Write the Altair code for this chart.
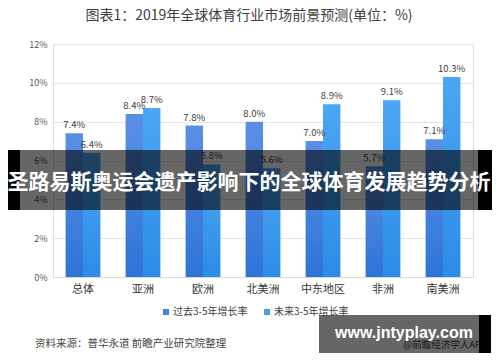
import altair as alt
import pandas as pd

regions = ["总体", "亚洲", "欧洲", "北美洲", "中东地区", "非洲", "南美洲"]
past = [7.4, 8.4, 7.8, 8.0, 7.0, 5.7, 7.1]
future = [6.4, 8.7, 5.8, 5.6, 8.9, 9.1, 10.3]
series = ["过去3-5年增长率", "未来3-5年增长率"]
y_ticks = [0, 2, 4, 6, 8, 10, 12]

title_text = "图表1：2019年全球体育行业市场前景预测(单位：%)"
source_text = "资料来源：普华永道 前瞻产业研究院整理"
app_text = "@前瞻经济学人APP"
banner_text = "圣路易斯奥运会遗产影响下的全球体育发展趋势分析"
site_text = "www.jntyplay.com"

rows = []
for r, p, f in zip(regions, past, future):
    rows.append({"region": r, "series": series[0], "v": p})
    rows.append({"region": r, "series": series[1], "v": f})
df = pd.DataFrame(rows)

FONT = "Noto Sans CJK SC"

x = alt.X("region:N", sort=regions, title=None,
          scale=alt.Scale(paddingInner=0.42, paddingOuter=0.21),
          axis=alt.Axis(labelAngle=0, labelFontSize=11, labelColor="#333333",
                        labelFont=FONT, labelPadding=6, ticks=False,
                        domainColor="#d9d9d9", domainWidth=1))
xo = alt.XOffset("series:N", scale=alt.Scale(domain=series, paddingInner=0, paddingOuter=0))
y = alt.Y("v:Q", title=None,
          scale=alt.Scale(domain=[0, 12], nice=False),
          axis=alt.Axis(values=y_ticks, labelExpr="datum.value + '%'",
                        labelFontSize=9, labelColor="#595959", labelFont=FONT,
                        labelPadding=6, ticks=False, domain=False,
                        gridColor="#e3e3e3", gridWidth=1))

base = alt.Chart(df)

def grad(top, bottom):
    return alt.Gradient(gradient="linear", x1=0, x2=0, y1=0, y2=1,
                        stops=[alt.GradientStop(color=top, offset=0),
                               alt.GradientStop(color=bottom, offset=1)])

bars_past = base.transform_filter(alt.datum.series == series[0]).mark_bar(
    color=grad("#5b8fe6", "#2e74d8")).encode(x=x, xOffset=xo, y=y)
bars_future = base.transform_filter(alt.datum.series == series[1]).mark_bar(
    color=grad("#4ba6f3", "#2c8ce6")).encode(x=x, xOffset=xo, y=y)

labels = base.transform_calculate(
    lab="format(datum.v, '.1f') + '%'"
).mark_text(dy=-8, fontSize=9.5, color="#404040", font=FONT).encode(
    x=x, xOffset=xo, y=y, text="lab:N")

legend_proxy = base.mark_square(opacity=0, size=1).encode(
    x=x, xOffset=xo, y=y,
    color=alt.Color("series:N", scale=alt.Scale(domain=series, range=["#3f83e2", "#41a0f0"]),
                    legend=alt.Legend(title=None, orient="none", legendX=108, legendY=263,
                                      direction="horizontal", symbolType="square",
                                      symbolSize=36, symbolOpacity=1, symbolStrokeWidth=0,
                                      labelFontSize=10, labelColor="#404040", labelFont=FONT,
                                      labelOffset=2, columnPadding=14)))

one = pd.DataFrame({"k": [0]})
ob = alt.Chart(one)

title = ob.mark_text(fontSize=14, color="#404040", font=FONT).encode(
    x=alt.value(196), y=alt.value(-28), text=alt.value(title_text))
source = ob.mark_text(fontSize=10.5, color="#444444", font=FONT, align="left").encode(
    x=alt.value(-18), y=alt.value(300), text=alt.value(source_text))
app = ob.mark_text(fontSize=9.5, color="#444444", font=FONT, align="right").encode(
    x=alt.value(434), y=alt.value(301), text=alt.value(app_text))

banner_bg = ob.mark_rect(color="black", opacity=0.6).encode(
    x=alt.value(-33), x2=alt.value(425), y=alt.value(106), y2=alt.value(166))
banner_l = ob.mark_rect(color="black").encode(
    x=alt.value(-45), x2=alt.value(-33), y=alt.value(106), y2=alt.value(166))
banner_r = ob.mark_rect(color="black").encode(
    x=alt.value(425), x2=alt.value(439), y=alt.value(106), y2=alt.value(166))
banner_txt = ob.mark_text(fontSize=21, fontWeight="bold", color="white", font=FONT).encode(
    x=alt.value(196), y=alt.value(139), text=alt.value(banner_text))

wm_bg = ob.mark_rect(color="black", opacity=0.6).encode(
    x=alt.value(266), x2=alt.value(426), y=alt.value(271), y2=alt.value(309))
wm_r = ob.mark_rect(color="black").encode(
    x=alt.value(426), x2=alt.value(438), y=alt.value(271), y2=alt.value(309))
wm_txt = ob.mark_text(fontSize=16, fontWeight="bold", color="white",
                      font="Liberation Sans").encode(
    x=alt.value(351), y=alt.value(289), text=alt.value(site_text))

chart = alt.layer(
    bars_past, bars_future, labels, legend_proxy, title, source, app,
    banner_bg, banner_l, banner_r, banner_txt, wm_bg, wm_r, wm_txt
).properties(
    width=420, height=233,
    autosize=alt.AutoSizeParams(type="none"),
    padding={"left": 45, "top": 36, "right": 19, "bottom": 77},
).configure_view(stroke=None).configure(background="white")

chart.save("out.html", embed_options={"renderer": "svg", "actions": False})
